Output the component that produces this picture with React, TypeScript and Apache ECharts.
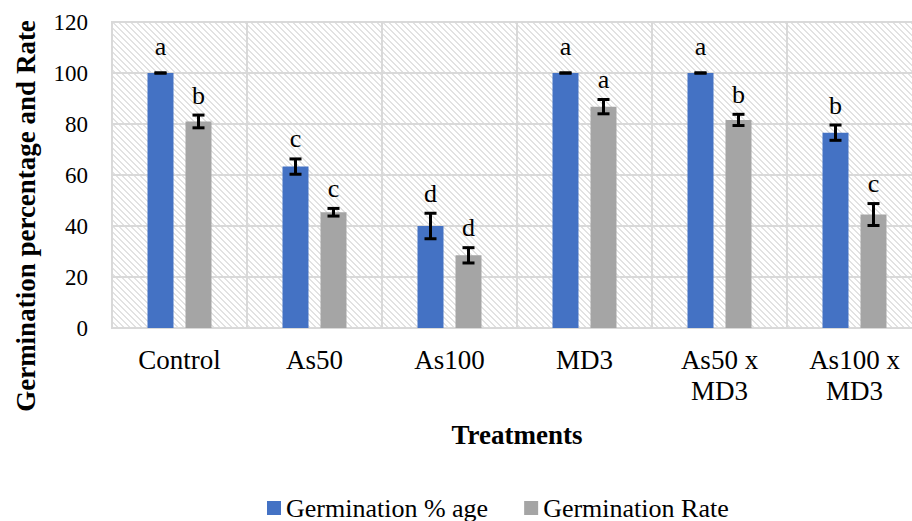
import React, { useEffect, useRef } from "react";
import * as echarts from "echarts";

const categories = ["Control", "As50", "As100", "MD3", "As50 x\nMD3", "As100 x\nMD3"];
const germPct = [100, 63.3, 40, 100, 100, 76.6];
const germPctErr = [0, 3, 5, 0, 0, 3];
const germPctLetters = ["a", "c", "d", "a", "a", "b"];
const germRate = [81, 45.4, 28.5, 86.8, 81.6, 44.5];
const germRateErr = [2.5, 1.5, 3, 2.8, 2.2, 4.3];
const germRateLetters = ["b", "c", "d", "a", "b", "c"];
const seriesNames = ["Germination % age", "Germination Rate"];
const yMin = 0;
const yMax = 120;
const yInterval = 20;

const FONT = "Liberation Serif";
const BAR_W = 26;
const BAR_GAP = 12;
const BLUE = "#4472C4";
const GRAY = "#A5A5A5";
const GRID_LINE = "#D9D9D9";

function makeHatch(): HTMLCanvasElement {
  const c = document.createElement("canvas");
  const n = 6;
  c.width = n;
  c.height = n;
  const ctx = c.getContext("2d")!;
  ctx.fillStyle = "#ffffff";
  ctx.fillRect(0, 0, n, n);
  ctx.fillStyle = "#e2e2e2";
  for (let i = 0; i < n; i++) {
    ctx.fillRect(i, i, 1, 1);
    ctx.fillRect((i + 1) % n, i, 1, 1);
  }
  return c;
}

function errorSeries(values: number[], errs: number[], letters: string[], sign: number, name: string) {
  const offset = (BAR_W + BAR_GAP) / 2;
  return {
    type: "custom",
    name: name + "-err",
    z: 5,
    clip: false,
    encode: { x: 0, y: 1 },
    data: values.map((v, i) => [i, v, errs[i]]),
    renderItem: (params: any, api: any) => {
      const idx = api.value(0);
      const v = api.value(1);
      const e = api.value(2);
      const cx = api.coord([idx, 0])[0] + sign * offset;
      const yTop = api.coord([idx, v + e])[1];
      const yBot = api.coord([idx, v - e])[1];
      const cap = 6;
      const ls = { stroke: "#000", lineWidth: 3 };
      const children: any[] = [];
      if (e > 0) {
        children.push({ type: "line", shape: { x1: cx, y1: yTop, x2: cx, y2: yBot }, style: ls });
      }
      children.push({ type: "line", shape: { x1: cx - cap, y1: yTop, x2: cx + cap, y2: yTop }, style: ls });
      children.push({ type: "line", shape: { x1: cx - cap, y1: yBot, x2: cx + cap, y2: yBot }, style: ls });
      children.push({
        type: "text",
        style: {
          text: letters[params.dataIndex],
          x: cx,
          y: yTop - (e > 0 ? 20 : 27),
          align: "center",
          verticalAlign: "middle",
          fontFamily: FONT,
          fontSize: 26,
          fill: "#000",
        },
      });
      return { type: "group", children };
    },
  };
}

export default function App() {
  const ref = useRef<HTMLDivElement>(null);
  useEffect(() => {
    if (!ref.current) return;
    const chart = echarts.init(ref.current, undefined, { renderer: "svg" });
    const hatch = makeHatch();
    chart.setOption({
      animation: false,
      backgroundColor: "#ffffff",
      textStyle: { fontFamily: FONT, color: "#000" },
      grid: {
        left: 112,
        top: 22,
        bottom: 521 - 328,
        width: 810,
        outerBoundsMode: "none",
        containLabel: false,
        show: true,
        backgroundColor: { image: hatch, repeat: "repeat", imageWidth: 6, imageHeight: 6 } as any,
        borderColor: GRID_LINE,
        borderWidth: 2,
      },
      legend: {
        data: seriesNames,
        left: 267,
        top: 495,
        padding: 0,
        itemGap: 36,
        itemWidth: 14,
        itemHeight: 14,
        icon: "rect",
        textStyle: { fontFamily: FONT, fontSize: 26, color: "#000" },
      },
      xAxis: {
        type: "category",
        data: categories,
        axisLine: { show: true, lineStyle: { color: GRID_LINE, width: 2 } },
        axisTick: { show: false },
        splitLine: { show: true, lineStyle: { color: GRID_LINE, width: 2 } },
        axisLabel: {
          interval: 0,
          margin: 16,
          fontFamily: FONT,
          fontSize: 27,
          lineHeight: 31,
          color: "#000",
        },
        name: "Treatments",
        nameLocation: "middle",
        nameGap: 93,
        nameTextStyle: { fontFamily: FONT, fontSize: 27, fontWeight: "bold", color: "#000" },
      },
      yAxis: {
        type: "value",
        min: yMin,
        max: yMax,
        interval: yInterval,
        axisLine: { show: false },
        axisTick: { show: false },
        splitLine: { show: true, lineStyle: { color: GRID_LINE, width: 2 } },
        axisLabel: { fontFamily: FONT, fontSize: 23, color: "#000", margin: 24 },
        name: "Germination percentage and Rate",
        nameLocation: "middle",
        nameGap: 73,
        nameTextStyle: {
          fontFamily: FONT,
          fontSize: 27,
          fontWeight: "bold",
          color: "#000",
          padding: [0, 82, 0, 0],
        },
      },
      series: [
        {
          type: "bar",
          name: seriesNames[0],
          data: germPct,
          barWidth: BAR_W,
          barGap: `${(BAR_GAP / BAR_W) * 100}%`,
          itemStyle: { color: BLUE },
        },
        {
          type: "bar",
          name: seriesNames[1],
          data: germRate,
          barWidth: BAR_W,
          barGap: `${(BAR_GAP / BAR_W) * 100}%`,
          itemStyle: { color: GRAY },
        },
        errorSeries(germPct, germPctErr, germPctLetters, -1, seriesNames[0]),
        errorSeries(germRate, germRateErr, germRateLetters, 1, seriesNames[1]),
      ],
    });
    return () => chart.dispose();
  }, []);
  return (
    <div
      ref={ref}
      style={{ position: "fixed", left: 0, top: 0, width: 912, height: 521, background: "#fff" }}
    />
  );
}
